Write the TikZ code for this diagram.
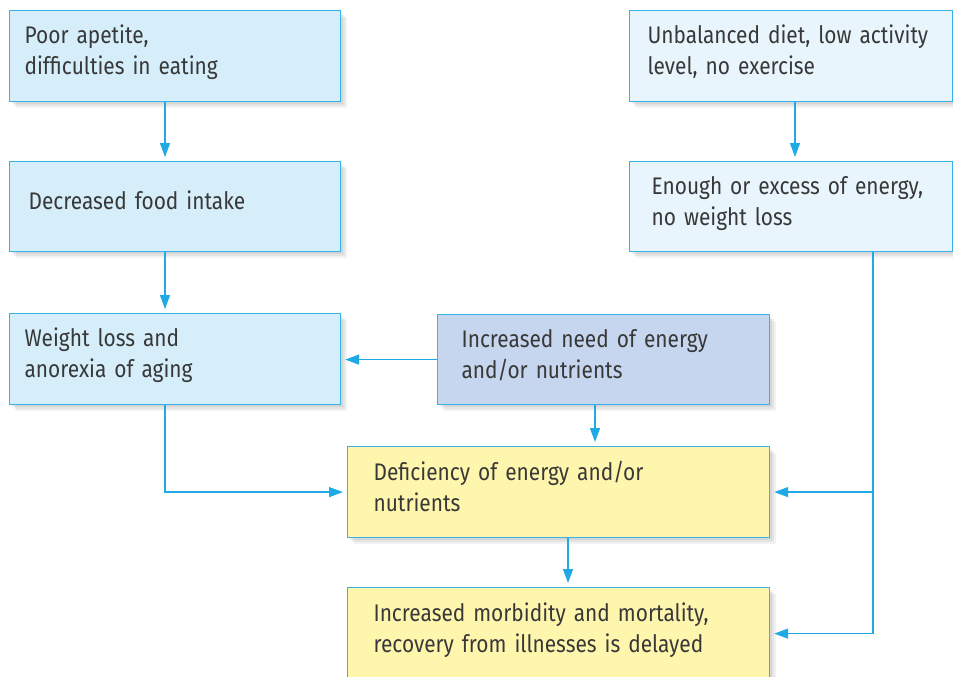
\documentclass[tikz,border=0pt]{standalone}
\usepackage{fontspec}
\setmainfont{Fira Sans}[FakeStretch=0.87]
\usetikzlibrary{arrows.meta,shadows}
\definecolor{edgec}{HTML}{35B3E9}
\definecolor{arrc}{HTML}{1FAAE6}
\definecolor{cyanfill}{HTML}{D5EEFA}
\definecolor{palefill}{HTML}{E9F5FD}
\definecolor{lavfill}{HTML}{C6D6EF}
\definecolor{yelfill}{HTML}{FFF6AD}
\definecolor{txt}{HTML}{383838}
\newcommand{\lowpad}{\rule[-12pt]{0pt}{1pt}}
\begin{document}
\begin{tikzpicture}[x=1pt,y=-1pt,
  softshadow/.style={
    general shadow={fill=black, opacity=0.06, shadow xshift=2pt, shadow yshift=-2pt},
    general shadow={fill=black, opacity=0.06, shadow xshift=4pt, shadow yshift=-4pt},
    general shadow={fill=black, opacity=0.05, shadow xshift=6pt, shadow yshift=-6pt}},
  bx/.style={draw=edgec, line width=1.2pt, rectangle, anchor=north west, align=left,
    text=txt, font=\fontsize{24}{31}\selectfont, inner ysep=0pt, softshadow,
    execute at end node=\lowpad},
  arr/.style={draw=arrc, line width=1.3pt, -{Triangle[length=14pt,width=10pt]}, shorten >=4pt}]
\useasboundingbox (0,0) rectangle (953,677);

\node[bx, fill=cyanfill, minimum width=331pt, minimum height=91pt, inner xsep=15pt, text width=301pt] (A) at (9,10) {Poor apetite,\\difficulties in eating};
\node[bx, fill=cyanfill, minimum width=331pt, minimum height=90pt, inner xsep=19pt, text width=293pt] (B) at (9,161) {Decreased food intake};
\node[bx, fill=cyanfill, minimum width=331pt, minimum height=91pt, inner xsep=15pt, text width=301pt] (C) at (9,313) {Weight loss and\\anorexia of aging};
\node[bx, fill=palefill, minimum width=323pt, minimum height=91pt, inner xsep=18pt, text width=287pt] (D) at (629,10) {Unbalanced diet, low activity\\level, no exercise};
\node[bx, fill=palefill, minimum width=323pt, minimum height=90pt, inner xsep=22pt, text width=279pt] (E) at (629,161) {Enough or excess of energy,\\no weight loss};
\node[bx, fill=lavfill, minimum width=332pt, minimum height=90pt, inner xsep=24pt, text width=284pt] (F) at (437,314) {Increased need of energy\\and/or nutrients};
\node[bx, fill=yelfill, minimum width=422pt, minimum height=91pt, inner xsep=26pt, text width=370pt] (G) at (347,446) {Deficiency of energy and/or\\nutrients};
\node[bx, fill=yelfill, minimum width=422pt, minimum height=92pt, inner xsep=26pt, text width=370pt] (H) at (347,587) {Increased morbidity and mortality,\\recovery from illnesses is delayed};

\draw[arr] (165,0 |- A.south) -- (165,0 |- B.north);
\draw[arr] (165,0 |- B.south) -- (165,0 |- C.north);
\draw[arr] (795,0 |- D.south) -- (795,0 |- E.north);
\draw[arr] (F.west) -- (F.west -| C.east);
\draw[arr] (595,0 |- F.south) -- (595,0 |- G.north);
\draw[arr] (165,0 |- C.south) |- (G.west);
\draw[arr] (873,0 |- E.south) |- (H.east);
\coordinate (J) at (873,0 |- G.east);
\draw[arr] (J) -- (G.east);
\draw[arr] (568,0 |- G.south) -- (568,0 |- H.north);
\end{tikzpicture}
\end{document}
